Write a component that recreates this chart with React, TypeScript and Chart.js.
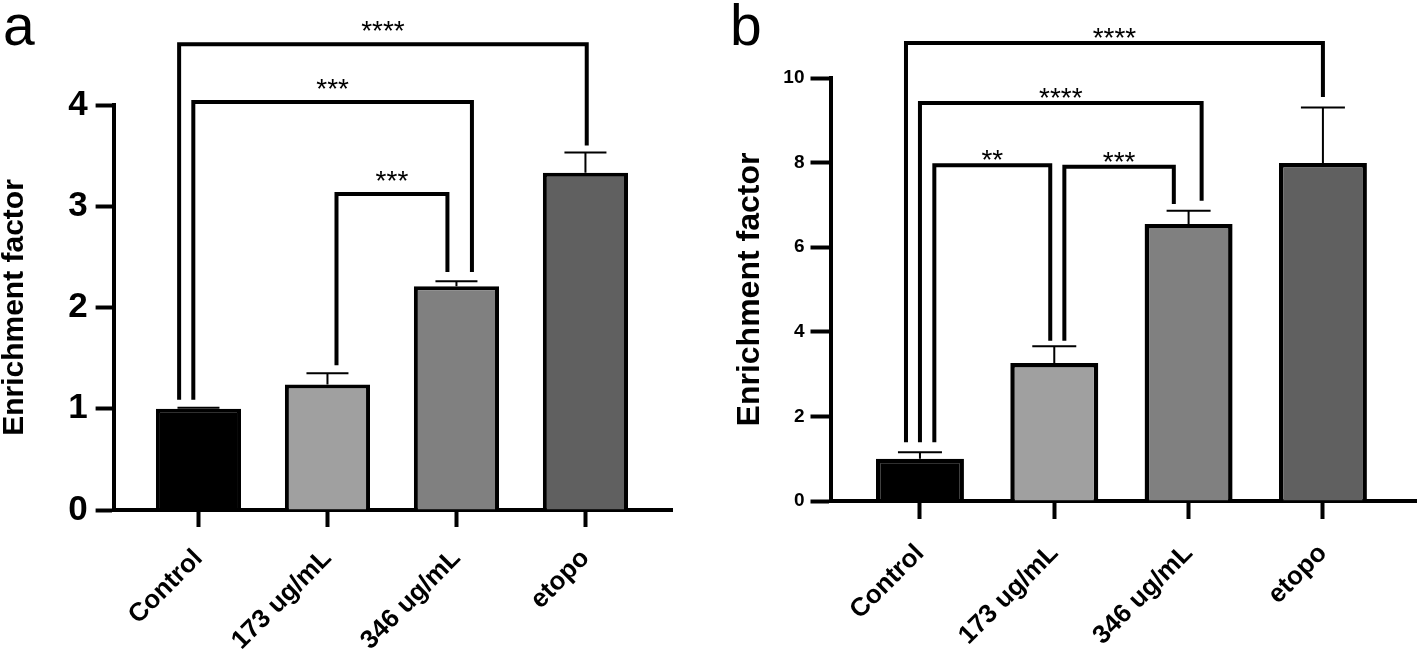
import React, { useEffect, useRef } from 'react';
import { Chart, registerables } from 'chart.js';

Chart.register(...registerables);

const FONT = "'Liberation Sans', Arial, Helvetica, sans-serif";

// ---------- data ----------
const categories = ['Control', '173 ug/mL', '346 ug/mL', 'etopo'];
const barColors = ['#000000', '#a0a0a0', '#808080', '#606060'];
const yTitle = 'Enrichment factor';

// panel a
const meanA = [1.0, 1.24, 2.21, 3.33];
const semA = [0.01, 0.11, 0.05, 0.2];
const yTicksA = [0, 1, 2, 3, 4];
const bracketPairsA = [[0, 3], [0, 2], [1, 2]];
const bracketLabelsA = ['****', '***', '***'];
const bracketTopsA = [4.6, 4.03, 3.12];
const bracketFromEndsA = [1.09, 1.09, 1.43];
const bracketToEndsA = [3.6, 2.35, 2.35];

// panel b
const meanB = [1.0, 3.26, 6.55, 7.99];
const semB = [0.15, 0.4, 0.31, 1.31];
const yTicksB = [0, 2, 4, 6, 8, 10];
const bracketPairsB = [[0, 3], [0, 2], [0, 1], [1, 2]];
const bracketLabelsB = ['****', '****', '**', '***'];
const bracketTopsB = [10.83, 9.41, 7.94, 7.9];
const bracketFromEndsB = [1.39, 1.39, 1.39, 3.79];
const bracketToEndsB = [9.55, 7.1, 3.79, 7.02];

// ---------- panel configs (layout / style) ----------
const panelA = {
  letter: 'a', left: 0, width: 700,
  means: meanA, sems: semA, yTicks: yTicksA,
  pairs: bracketPairsA, labels: bracketLabelsA, tops: bracketTopsA,
  fromEnds: bracketFromEndsA, toEnds: bracketToEndsA,
  legOffsets: [[-0.15, 0.01], [-0.04, 0.12], [0.07, -0.07]],
  padLeft: 0, padRight: 28, padTop: 105,
  yWidth: 113.6, xHeight: 140,
  xMin: -0.658, xMax: 3.671,
  yFont: 35, yTickLen: 18, yPad: 8,
  xTickLen: 17, xPad: 25, xFont: 26,
  titleSize: 30,
  barPct: 0.66, barBorder: 4,
  capHalf: 21, errWidth: 2, bracketWidth: 4,
  starSize: 28, starGap: 18,
  letterX: 3, letterY: 45, letterSize: 57,
};

const panelB = {
  letter: 'b', left: 700, width: 718,
  means: meanB, sems: semB, yTicks: yTicksB,
  pairs: bracketPairsB, labels: bracketLabelsB, tops: bracketTopsB,
  fromEnds: bracketFromEndsB, toEnds: bracketToEndsB,
  legOffsets: [[-0.104, 0], [0, 0.097], [0.107, -0.03], [0.075, -0.11]],
  padLeft: 34, padRight: 2, padTop: 78,
  yWidth: 96.5, xHeight: 149,
  xMin: -0.666, xMax: 3.693,
  yFont: 19, yTickLen: 20, yPad: 6,
  xTickLen: 18, xPad: 28, xFont: 26,
  titleSize: 32,
  barPct: 0.655, barBorder: 4.5,
  capHalf: 22, errWidth: 2, bracketWidth: 4,
  starSize: 28, starGap: 10,
  letterX: 30, letterY: 45, letterSize: 57,
};

type PanelCfg = typeof panelA;

function makeAnnot(p: PanelCfg) {
  return {
    id: 'annot',
    afterDatasetsDraw(chart: any) {
      const { ctx } = chart;
      const xs = chart.scales.x;
      const ys = chart.scales.y;
      ctx.save();
      ctx.strokeStyle = '#000';
      ctx.fillStyle = '#000';
      // error bars (upper only)
      ctx.lineWidth = p.errWidth;
      ctx.lineCap = 'butt';
      p.means.forEach((m: number, i: number) => {
        const x = xs.getPixelForValue(i);
        const y0 = ys.getPixelForValue(m);
        const y1 = ys.getPixelForValue(m + p.sems[i]);
        ctx.beginPath();
        ctx.moveTo(x, y0);
        ctx.lineTo(x, y1);
        ctx.moveTo(x - p.capHalf, y1);
        ctx.lineTo(x + p.capHalf, y1);
        ctx.stroke();
      });
      // significance brackets
      ctx.lineWidth = p.bracketWidth;
      ctx.lineJoin = 'miter';
      p.pairs.forEach((pair: number[], k: number) => {
        const [a, b] = pair;
        const [oa, ob] = p.legOffsets[k];
        const xa = xs.getPixelForValue(a + oa);
        const xb = xs.getPixelForValue(b + ob);
        const yt = ys.getPixelForValue(p.tops[k]);
        ctx.beginPath();
        ctx.moveTo(xa, ys.getPixelForValue(p.fromEnds[k]));
        ctx.lineTo(xa, yt);
        ctx.lineTo(xb, yt);
        ctx.lineTo(xb, ys.getPixelForValue(p.toEnds[k]));
        ctx.stroke();
        const label = p.labels[k];
        ctx.font = `${p.starSize}px ${FONT}`;
        ctx.textAlign = 'center';
        ctx.textBaseline = 'alphabetic';
        const mt = ctx.measureText(label);
        const cy = yt - p.starGap;
        const base = cy + (mt.actualBoundingBoxAscent - mt.actualBoundingBoxDescent) / 2;
        ctx.fillText(label, (xa + xb) / 2, base);
      });
      // panel letter
      ctx.font = `${p.letterSize}px ${FONT}`;
      ctx.textAlign = 'left';
      ctx.textBaseline = 'alphabetic';
      ctx.fillText(p.letter, p.letterX, p.letterY);
      ctx.restore();
    },
  };
}

function Panel({ p }: { p: PanelCfg }) {
  const ref = useRef<HTMLCanvasElement>(null);
  useEffect(() => {
    const chart = new Chart(ref.current as HTMLCanvasElement, {
      type: 'bar',
      data: {
        datasets: [
          {
            data: p.means.map((v: number, i: number) => ({ x: i, y: v })) as any,
            backgroundColor: barColors,
            borderColor: '#000',
            borderWidth: p.barBorder,
            borderSkipped: 'start',
            categoryPercentage: 1,
            barPercentage: p.barPct,
          } as any,
        ],
      },
      options: {
        responsive: false,
        animation: false,
        devicePixelRatio: 1,
        layout: { padding: { left: p.padLeft, right: p.padRight, top: p.padTop, bottom: 0 } },
        plugins: { legend: { display: false }, tooltip: { enabled: false } },
        scales: {
          x: {
            type: 'linear',
            min: p.xMin,
            max: p.xMax,
            offset: false,
            afterBuildTicks: (s: any) => {
              s.ticks = categories.map((_, i) => ({ value: i }));
            },
            afterFit: (s: any) => {
              s.height = p.xHeight;
            },
            grid: {
              offset: false,
              drawOnChartArea: false,
              drawTicks: true,
              tickLength: p.xTickLen,
              tickWidth: 4,
              tickColor: '#000',
            },
            border: { display: true, color: '#000', width: 4 },
            ticks: {
              autoSkip: false,
              maxRotation: 45,
              minRotation: 45,
              padding: p.xPad,
              color: '#000',
              font: { family: FONT, size: p.xFont, weight: 'bold', lineHeight: 0.25 },
              callback: (v: any) => categories[v as number] ?? '',
            },
          },
          y: {
            type: 'linear',
            min: p.yTicks[0],
            max: p.yTicks[p.yTicks.length - 1],
            afterBuildTicks: (s: any) => {
              s.ticks = p.yTicks.map((v: number) => ({ value: v }));
            },
            afterFit: (s: any) => {
              s.width = p.yWidth;
            },
            grid: {
              drawOnChartArea: false,
              drawTicks: true,
              tickLength: p.yTickLen,
              tickWidth: 4,
              tickColor: '#000',
            },
            border: { display: true, color: '#000', width: 4 },
            ticks: {
              padding: p.yPad,
              color: '#000',
              font: { family: FONT, size: p.yFont, weight: 'bold' },
            },
            title: {
              display: true,
              text: yTitle,
              color: '#000',
              padding: 0,
              font: { family: FONT, size: p.titleSize, weight: 'bold', lineHeight: 1 },
            },
          },
        },
      } as any,
      plugins: [makeAnnot(p)],
    });
    return () => chart.destroy();
  }, []);
  return (
    <canvas
      ref={ref}
      width={p.width}
      height={650}
      style={{ position: 'absolute', left: p.left, top: 0, width: p.width, height: 650 }}
    />
  );
}

export default function App() {
  return (
    <div style={{ position: 'fixed', left: 0, top: 0, width: 1418, height: 650, background: '#ffffff', overflow: 'hidden' }}>
      <Panel p={panelA} />
      <Panel p={panelB} />
    </div>
  );
}
